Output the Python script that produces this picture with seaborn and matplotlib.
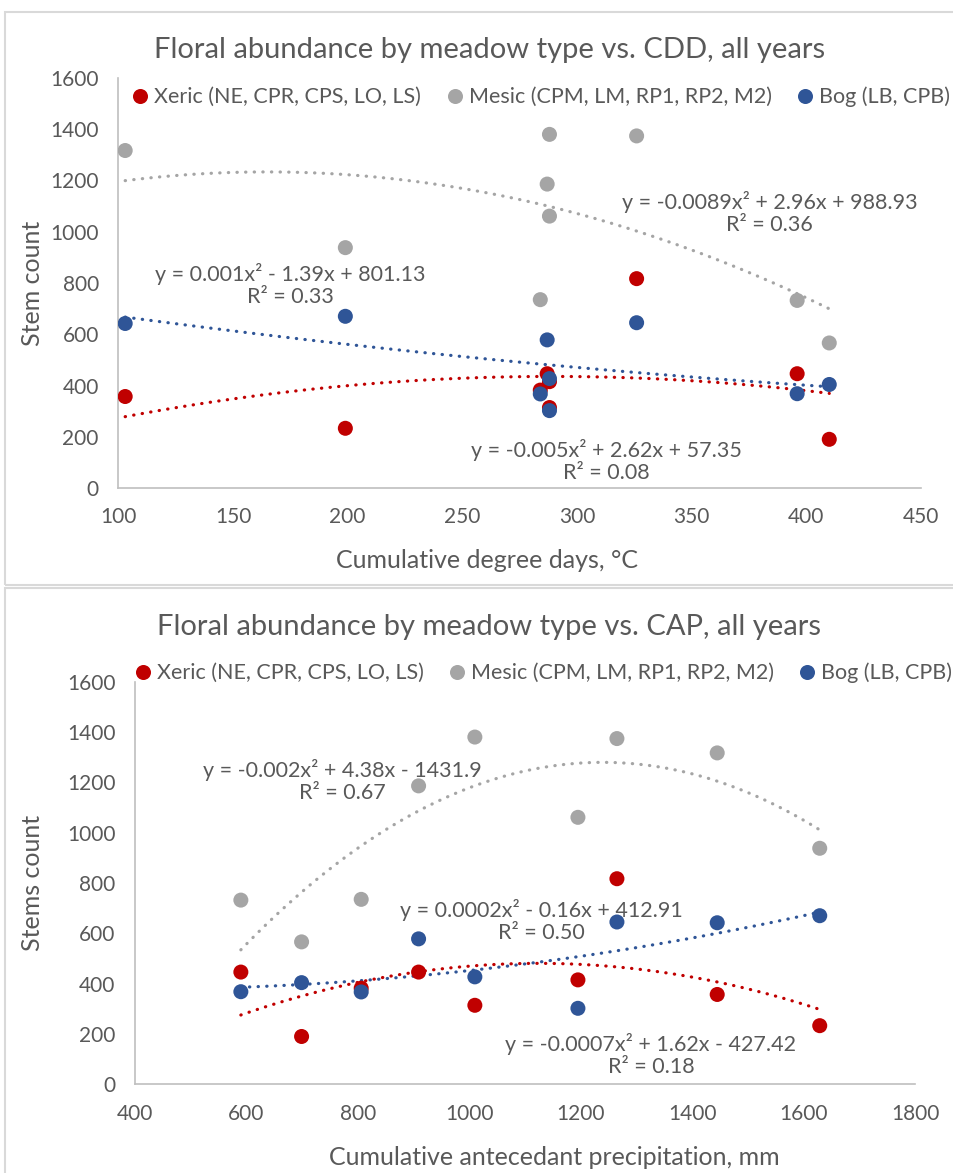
import matplotlib
matplotlib.use("Agg")
import matplotlib.pyplot as plt
from matplotlib.patches import Rectangle
import seaborn as sns
import pandas as pd

# one value per sampling event, same order in every list
cdd = [103, 199, 284, 287, 288, 288, 326, 396, 410]
cap = [1445, 1629, 806, 909, 1010, 1195, 1265, 590, 699]
xeric = [357, 233, 382, 446, 314, 415, 817, 446, 190]
mesic = [1317, 938, 735, 1186, 1380, 1061, 1374, 732, 566]
bog = [642, 670, 367, 578, 427, 302, 645, 368, 404]

types = ["Xeric (NE, CPR, CPS, LO, LS)", "Mesic (CPM, LM, RP1, RP2, M2)", "Bog (LB, CPB)"]
colors = ["#C00000", "#A5A5A5", "#2F5597"]

eq_cdd = ["y = -0.005x² + 2.62x + 57.35\nR² = 0.08",
          "y = -0.0089x² + 2.96x + 988.93\nR² = 0.36",
          "y = 0.001x² - 1.39x + 801.13\nR² = 0.33"]
eq_cap = ["y = -0.0007x² + 1.62x - 427.42\nR² = 0.18",
          "y = -0.002x² + 4.38x - 1431.9\nR² = 0.67",
          "y = 0.0002x² - 0.16x + 412.91\nR² = 0.50"]

df = pd.DataFrame({
    "type": [t for t in types for _ in cdd],
    "cdd": cdd * 3,
    "cap": cap * 3,
    "stems": xeric + mesic + bog,
})

sns.set_style("white")
plt.rcParams["font.family"] = ["Lato", "DejaVu Sans"]
TXT = "#595959"

fig = plt.figure(figsize=(9.54, 11.73), dpi=100)

# chart frames like the excel chart areas
for y0, h in [(12, 573), (588, 600)]:
    fig.patches.append(Rectangle((5 / 954, 1 - (y0 + h) / 1173), 1.0, h / 1173,
                                 transform=fig.transFigure, fill=False,
                                 edgecolor="#D9D9D9", lw=1.5))

ax1 = fig.add_axes([118.3 / 954, 1 - 488 / 1173, 802.7 / 954, 410 / 1173])
ax2 = fig.add_axes([135 / 954, 1 - 1084.3 / 1173, 780 / 954, 402.6 / 1173])


def draw(ax, xcol, eqs, eq_pos, xlim, xstep):
    sns.scatterplot(data=df, x=xcol, y="stems", hue="type", hue_order=types,
                    palette=colors, s=117, linewidth=0, ax=ax, zorder=3)
    for t, c, eq, pos in zip(types, colors, eqs, eq_pos):
        sub = df[df["type"] == t]
        sns.regplot(data=sub, x=xcol, y="stems", order=2, ci=None, scatter=False,
                    ax=ax, line_kws=dict(color=c, lw=2.3, ls=(0, (0.1, 2.6)),
                                         dash_capstyle="round", zorder=2))
        ax.text(pos[0], pos[1], eq, ha="center", va="center", color=TXT,
                fontsize=15.5, linespacing=1.15, zorder=4)
    ax.set_xlim(*xlim)
    ax.set_ylim(0, 1600)
    ax.set_xticks(range(xlim[0], xlim[1] + 1, xstep))
    ax.set_yticks(range(0, 1601, 200))
    ax.tick_params(length=0, labelsize=15, labelcolor=TXT, pad=14)
    for s in ["top", "right"]:
        ax.spines[s].set_visible(False)
    for s in ["left", "bottom"]:
        ax.spines[s].set_color("#BFBFBF")
        ax.spines[s].set_linewidth(1.2)


draw(ax1, "cdd", eq_cdd, [(313, 105), (384, 1073), (175, 792)], (100, 450), 50)
draw(ax2, "cap", eq_cap, [(1326, 116), (772, 1205), (1129, 649)], (400, 1800), 200)

ax1.set_xlabel("Cumulative degree days, °C", fontsize=18, color=TXT)
ax1.set_ylabel("Stem count", fontsize=18, color=TXT)
ax2.set_xlabel("Cumulative antecedant precipitation, mm", fontsize=18, color=TXT)
ax2.set_ylabel("Stems count", fontsize=18, color=TXT)

ax1.text(0.463, 1.068, "Floral abundance by meadow type vs. CDD, all years",
         transform=ax1.transAxes, ha="center", va="center", fontsize=21, color=TXT)
ax2.text(0.454, 1.135, "Floral abundance by meadow type vs. CAP, all years",
         transform=ax2.transAxes, ha="center", va="center", fontsize=21, color=TXT)

ax1.xaxis.set_label_coords(0.459, -0.176)
ax1.xaxis.label.set_va("center")
ax2.xaxis.set_label_coords(0.538, -0.183)
ax2.xaxis.label.set_va("center")
ax1.yaxis.set_label_coords(-0.1075, 0.5)
ax1.yaxis.label.set_va("center")
ax2.yaxis.set_label_coords(-0.132, 0.5)
ax2.yaxis.label.set_va("center")

for ax, anchor in [(ax1, (0.527, 0.954)), (ax2, (0.524, 1.0216))]:
    h, l = ax.get_legend_handles_labels()
    ax.legend(h[:3], l[:3], ncol=3, loc="center", bbox_to_anchor=anchor,
              frameon=False, fontsize=15.5, labelcolor=TXT, handlelength=0.7,
              handletextpad=0.3, columnspacing=1.2, borderaxespad=0, borderpad=0)

fig.savefig("out.png", dpi=100)
